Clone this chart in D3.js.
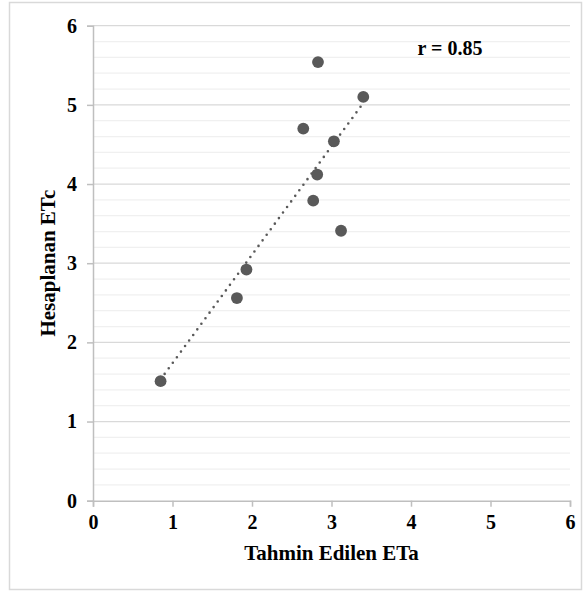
<!DOCTYPE html>
<html>
<head>
<meta charset="utf-8">
<script src="https://cdn.jsdelivr.net/npm/d3@7"></script>
<style>
  body { margin: 0; background: #fff; }
  svg { display: block; }
</style>
</head>
<body>
<div id="chart"></div>
<script>
// data
const etaValues = [0.85, 1.81, 1.93, 2.83, 3.40, 2.645, 3.03, 2.82, 2.77, 3.12];
const etcValues = [1.51, 2.56, 2.92, 5.54, 5.10, 4.70, 4.54, 4.12, 3.79, 3.41];
const tickValues = [0, 1, 2, 3, 4, 5, 6];
const xTitle = "Tahmin Edilen ETa";
const yTitle = "Hesaplanan ETc";
const rLabel = "r = 0.85";

const width = 587, height = 594;
const marginLeft = 93, marginRight = 17, marginTop = 25.7, marginBottom = 93.3;
const font = "'Liberation Serif', 'Times New Roman', serif";

const points = etaValues.map((x, i) => ({ x, y: etcValues[i] }));

const x = d3.scaleLinear().domain([0, 6]).range([marginLeft, width - marginRight]);
const y = d3.scaleLinear().domain([0, 6]).range([height - marginBottom, marginTop]);

const svg = d3.select("#chart")
  .append("svg")
  .attr("width", width)
  .attr("height", height)
  .attr("viewBox", [0, 0, width, height]);

// outer frame
svg.append("rect")
  .attr("x", 9.5).attr("y", 2.5)
  .attr("width", 572).attr("height", 587)
  .attr("fill", "#fff")
  .attr("stroke", "#d9d9d9")
  .attr("stroke-width", 1.5);

// minor gridlines every 0.2
const minor = d3.range(1, 30).map(i => i / 5).filter(v => Math.abs(v - Math.round(v)) > 1e-6);
svg.append("g")
  .selectAll("line")
  .data(minor)
  .join("line")
  .attr("x1", x(0)).attr("x2", x(6))
  .attr("y1", d => y(d)).attr("y2", d => y(d))
  .attr("stroke", "#f0f0f0")
  .attr("stroke-width", 1.2);

// major gridlines
svg.append("g")
  .selectAll("line")
  .data(tickValues.slice(1))
  .join("line")
  .attr("x1", x(0)).attr("x2", x(6))
  .attr("y1", d => y(d)).attr("y2", d => y(d))
  .attr("stroke", "#d9d9d9")
  .attr("stroke-width", 1.2);

// axes
svg.append("g")
  .attr("transform", `translate(0,${y(0)})`)
  .call(d3.axisBottom(x).tickValues(tickValues).tickSize(6).tickPadding(8).tickFormat(d3.format("d")))
  .call(g => g.selectAll(".domain, .tick line").attr("stroke", "#bfbfbf").attr("stroke-width", 1.5))
  .call(g => g.selectAll(".tick text")
    .attr("font-family", font)
    .attr("font-weight", "bold")
    .attr("font-size", 20)
    .attr("fill", "#000"));

svg.append("g")
  .attr("transform", `translate(${x(0)},0)`)
  .call(d3.axisLeft(y).tickValues(tickValues).tickSize(6).tickPadding(10).tickFormat(d3.format("d")))
  .call(g => g.selectAll(".domain, .tick line").attr("stroke", "#bfbfbf").attr("stroke-width", 1.5))
  .call(g => g.selectAll(".tick text")
    .attr("font-family", font)
    .attr("font-weight", "bold")
    .attr("font-size", 20)
    .attr("fill", "#000"));

// linear trendline from the points
const mx = d3.mean(etaValues), my = d3.mean(etcValues);
const sxy = d3.sum(points, d => (d.x - mx) * (d.y - my));
const sxx = d3.sum(points, d => (d.x - mx) ** 2);
const slope = sxy / sxx, intercept = my - slope * mx;
const [xMin, xMax] = d3.extent(etaValues);

svg.append("path")
  .datum([xMin, xMax])
  .attr("d", d3.line().x(d => x(d)).y(d => y(intercept + slope * d)))
  .attr("fill", "none")
  .attr("stroke", "#595959")
  .attr("stroke-width", 2.6)
  .attr("stroke-linecap", "round")
  .attr("stroke-dasharray", "0 6.9");

// points
svg.append("g")
  .selectAll("circle")
  .data(points)
  .join("circle")
  .attr("cx", d => x(d.x))
  .attr("cy", d => y(d.y))
  .attr("r", 5.9)
  .attr("fill", "#595959");

// annotation
svg.append("text")
  .attr("x", 450).attr("y", 55)
  .attr("text-anchor", "middle")
  .attr("font-family", font)
  .attr("font-weight", "bold")
  .attr("font-size", 20)
  .text(rLabel);

// axis titles
svg.append("text")
  .attr("x", (x(0) + x(6)) / 2).attr("y", 560)
  .attr("text-anchor", "middle")
  .attr("font-family", font)
  .attr("font-weight", "bold")
  .attr("font-size", 21)
  .text(xTitle);

svg.append("text")
  .attr("transform", `translate(55,${(y(0) + y(6)) / 2}) rotate(-90)`)
  .attr("text-anchor", "middle")
  .attr("font-family", font)
  .attr("font-weight", "bold")
  .attr("font-size", 21)
  .text(yTitle);
</script>
</body>
</html>
